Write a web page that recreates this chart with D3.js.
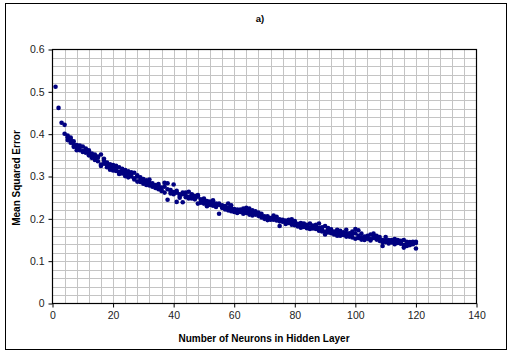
<!DOCTYPE html>
<html>
<head>
<meta charset="utf-8">
<script src="https://cdn.jsdelivr.net/npm/d3@7"></script>
<style>
  body { margin: 0; background: #fff; }
  svg { display: block; font-family: Arial, "Liberation Sans", sans-serif; }
</style>
</head>
<body>
<div id="chart"></div>
<script>
// data: three runs per hidden layer size
const runA = [
  0.512, 0.462, 0.427, 0.422, 0.397, 0.388, 0.383, 0.374, 0.369, 0.371,
  0.362, 0.357, 0.354, 0.348, 0.345, 0.352, 0.338, 0.333, 0.329, 0.327,
  0.325, 0.322, 0.312, 0.315, 0.312, 0.304, 0.309, 0.303, 0.298, 0.294,
  0.291, 0.293, 0.284, 0.280, 0.278, 0.274, 0.285, 0.284, 0.268, 0.281,
  0.262, 0.258, 0.262, 0.255, 0.264, 0.256, 0.254, 0.256, 0.246, 0.244,
  0.242, 0.241, 0.244, 0.236, 0.233, 0.232, 0.228, 0.236, 0.225, 0.223,
  0.219, 0.222, 0.224, 0.220, 0.224, 0.214, 0.218, 0.215, 0.208, 0.206,
  0.204, 0.202, 0.208, 0.205, 0.199, 0.198, 0.196, 0.194, 0.199, 0.195,
  0.188, 0.185, 0.189, 0.182, 0.189, 0.184, 0.181, 0.189, 0.176, 0.183,
  0.178, 0.175, 0.170, 0.174, 0.172, 0.168, 0.174, 0.166, 0.170, 0.176,
  0.173, 0.165, 0.158, 0.160, 0.163, 0.165, 0.160, 0.157, 0.145, 0.157,
  0.150, 0.148, 0.152, 0.150, 0.148, 0.150, 0.142, 0.145, 0.146, 0.143
];
const runAStart = 1;

const runB = [
  0.401, 0.393, 0.380, 0.376, 0.368, 0.362, 0.358, 0.366, 0.350, 0.347, 0.339,
  0.347, 0.325, 0.330, 0.322, 0.316, 0.314, 0.318, 0.311, 0.307, 0.301, 0.305,
  0.300, 0.293, 0.288, 0.287, 0.283, 0.285, 0.279, 0.276, 0.273, 0.270, 0.266,
  0.262, 0.245, 0.260, 0.263, 0.240, 0.250, 0.239, 0.251, 0.252, 0.248, 0.250,
  0.236, 0.238, 0.236, 0.230, 0.233, 0.231, 0.228, 0.212, 0.226, 0.222, 0.220,
  0.218, 0.216, 0.214, 0.216, 0.212, 0.214, 0.210, 0.208, 0.212, 0.207, 0.203,
  0.200, 0.197, 0.200, 0.198, 0.196, 0.183, 0.193, 0.188, 0.190, 0.186, 0.185,
  0.182, 0.179, 0.181, 0.178, 0.180, 0.177, 0.176, 0.172, 0.170, 0.163, 0.168,
  0.166, 0.163, 0.167, 0.160, 0.162, 0.158, 0.161, 0.156, 0.153, 0.155, 0.151,
  0.150, 0.153, 0.149, 0.155, 0.151, 0.148, 0.136, 0.145, 0.142, 0.144,
  0.140, 0.143, 0.141, 0.132, 0.136, 0.138, 0.140, 0.130
];
const runBStart = 4;

const runC = [
  0.386, 0.392, 0.370, 0.362, 0.373, 0.360, 0.356, 0.362, 0.344, 0.352,
  0.336, 0.328, 0.342, 0.326, 0.322, 0.320, 0.313, 0.306, 0.318, 0.308,
  0.298, 0.310, 0.296, 0.300, 0.292, 0.288, 0.280, 0.286, 0.278, 0.276,
  0.282, 0.268, 0.276, 0.270, 0.264, 0.258, 0.266, 0.254, 0.258, 0.262,
  0.248, 0.258, 0.246, 0.252, 0.240, 0.248, 0.238, 0.236, 0.240, 0.232,
  0.236, 0.228, 0.230, 0.226, 0.232, 0.220, 0.222, 0.218, 0.216, 0.226,
  0.218, 0.220, 0.210, 0.210, 0.212, 0.203, 0.206, 0.198, 0.203, 0.200,
  0.194, 0.196, 0.192, 0.198, 0.190, 0.192, 0.184, 0.190, 0.184, 0.186,
  0.176, 0.182, 0.186, 0.178, 0.180, 0.170, 0.174, 0.170, 0.166, 0.160,
  0.168, 0.164, 0.166, 0.158, 0.164, 0.166, 0.160, 0.156, 0.154, 0.158,
  0.152, 0.160, 0.156, 0.152, 0.150, 0.148, 0.146, 0.150, 0.146, 0.148,
  0.144, 0.138, 0.146, 0.140, 0.142, 0.146
];
const runCStart = 5;

const xTicks = [0, 20, 40, 60, 80, 100, 120, 140];
const yTicks = [0, 0.1, 0.2, 0.3, 0.4, 0.5, 0.6];

const W = 512, H = 354;
const plot = { left: 52.5, right: 476.5, top: 49.5, bottom: 303.5 };

const svg = d3.select('#chart').append('svg')
    .attr('width', W)
    .attr('height', H);

// outer frame
svg.append('rect')
    .attr('x', 5.5).attr('y', 3.5)
    .attr('width', 501).attr('height', 346)
    .attr('fill', '#fff')
    .attr('stroke', '#000')
    .attr('stroke-width', 1);

const x = d3.scaleLinear().domain([0, 140]).range([plot.left, plot.right]);
const y = d3.scaleLinear().domain([0, 0.6]).range([plot.bottom, plot.top]);

// minor grid
const g = svg.append('g').attr('shape-rendering', 'crispEdges');
g.selectAll('.vgrid')
    .data(d3.range(4, 140, 4))
    .join('line')
        .attr('x1', d => Math.round(x(d)) + 0.5).attr('x2', d => Math.round(x(d)) + 0.5)
        .attr('y1', plot.top).attr('y2', plot.bottom)
        .attr('stroke', '#c4c4c4');
g.selectAll('.hgrid')
    .data(d3.range(1, 30).map(i => i * 0.02))
    .join('line')
        .attr('y1', d => Math.round(y(d)) + 0.5).attr('y2', d => Math.round(y(d)) + 0.5)
        .attr('x1', plot.left).attr('x2', plot.right)
        .attr('stroke', '#c4c4c4');

// plot frame
svg.append('rect')
    .attr('x', plot.left).attr('y', plot.top)
    .attr('width', plot.right - plot.left).attr('height', plot.bottom - plot.top)
    .attr('fill', 'none')
    .attr('stroke', '#000')
    .attr('stroke-width', 1.2);

// axes
svg.append('g')
    .attr('transform', `translate(0, ${plot.bottom})`)
    .call(d3.axisBottom(x).tickValues(xTicks).tickSize(4).tickPadding(4))
    .call(a => a.select('.domain').remove())
    .selectAll('text')
        .attr('font-size', 10.5)
        .attr('fill', '#222');

svg.append('g')
    .attr('transform', `translate(${plot.left}, 0)`)
    .call(d3.axisLeft(y).tickValues(yTicks).tickSize(4).tickPadding(4).tickFormat(d3.format('')))
    .call(a => a.select('.domain').remove())
    .selectAll('text')
        .attr('font-size', 10.5)
        .attr('fill', '#222');

// points
const points = runA.map((v, i) => ({ n: runAStart + i, mse: v }))
    .concat(runB.map((v, i) => ({ n: runBStart + i, mse: v })))
    .concat(runC.map((v, i) => ({ n: runCStart + i, mse: v })));

svg.append('g')
    .selectAll('circle')
    .data(points)
    .join('circle')
        .attr('cx', d => x(d.n))
        .attr('cy', d => y(d.mse))
        .attr('r', 2.3)
        .attr('fill', '#000080');

// labels
svg.append('text')
    .attr('x', 260).attr('y', 22)
    .attr('text-anchor', 'middle')
    .attr('font-size', 9.5)
    .attr('font-weight', 'bold')
    .text('a)');

svg.append('text')
    .attr('x', 264).attr('y', 342)
    .attr('text-anchor', 'middle')
    .attr('font-size', 10)
    .attr('font-weight', 'bold')
    .text('Number of Neurons in Hidden Layer');

svg.append('text')
    .attr('transform', 'translate(20, 178) rotate(-90)')
    .attr('text-anchor', 'middle')
    .attr('font-size', 10)
    .attr('font-weight', 'bold')
    .text('Mean Squared Error');
</script>
</body>
</html>
